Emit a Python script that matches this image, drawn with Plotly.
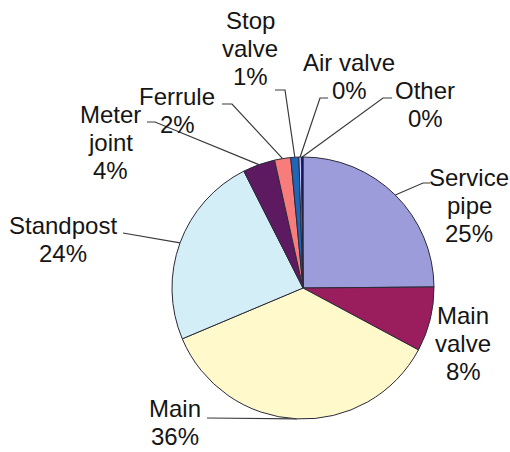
import math
import plotly.graph_objects as go

# Failure counts by component (share of all reported failures)
components = ["Service pipe", "Main valve", "Main", "Standpost", "Meter joint",
              "Ferrule", "Stop valve", "Air valve", "Other"]
shares = [25, 8, 36, 24, 4, 2, 1, 0.3, 0.2]
slice_colors = ["#9C9CDA", "#9A1D5E", "#FFF9CC", "#D3EEF6", "#5E1A60",
                "#F87C7C", "#1F66B8", "#CCCCFF", "#000080"]
label_lines = [["Service", "pipe"], ["Main", "valve"], ["Main"], ["Standpost"],
               ["Meter", "joint"], ["Ferrule"], ["Stop", "valve"], ["Air valve"], ["Other"]]

W, H = 510, 452
CX, CY, R = 303, 288, 131          # pie centre / radius in pixels
LINE_GAP = 28                      # distance between label lines

# label block centres (pixels) and leader-line starts near the label
label_pos = {
    "Service pipe": (469, 205), "Main valve": (463, 343), "Main": (175, 422),
    "Standpost": (63, 239), "Meter joint": (110, 142), "Ferrule": (177, 110),
    "Stop valve": (250, 48), "Air valve": (349, 76), "Other": (425, 104),
}
leader_start = {
    "Service pipe": [(430, 183), (423, 183)],
    "Main": [(207, 418)],
    "Standpost": [(123, 233)],
    "Meter joint": [(147, 122), (155, 122)],
    "Ferrule": [(222, 104), (232, 104)],
    "Stop valve": [(275, 90), (285, 90)],
    "Air valve": [(328, 98), (320, 98)],
    "Other": [(392, 98), (383, 98)],
}

total = sum(shares)

fig = go.Figure()
fig.add_trace(go.Pie(
    labels=components, values=shares, sort=False, direction="clockwise",
    rotation=0, textinfo="none", hoverinfo="label+percent",
    marker=dict(colors=slice_colors, line=dict(color="#2a2a3a", width=1)),
    domain=dict(x=[(CX - R) / W, (CX + R) / W],
                y=[(H - CY - R) / H, (H - CY + R) / H]),
    showlegend=False,
))

# leader lines end at the middle of each slice's outer edge
cum = 0.0
for name, v in zip(components, shares):
    mid = (cum + v / 2) / total * 2 * math.pi
    cum += v
    if name not in leader_start:
        continue
    ex = CX + R * math.sin(mid)
    ey = CY - R * math.cos(mid)
    pts = leader_start[name] + [(ex, ey)]
    fig.add_trace(go.Scatter(
        x=[p[0] for p in pts], y=[p[1] for p in pts], mode="lines",
        line=dict(color="#3a3a3a", width=1.2), hoverinfo="skip", showlegend=False,
    ))

# data labels: name lines followed by the rounded percentage
for name, v, lines in zip(components, shares, label_lines):
    pct = round(v / total * 100)
    rows = lines + [f"{pct}%"]
    x, y = label_pos[name]
    for i, row in enumerate(rows):
        fig.add_annotation(
            x=x, y=y + (i - (len(rows) - 1) / 2) * LINE_GAP, xref="x", yref="y",
            showarrow=False, text=row, borderpad=0,
            font=dict(family="Liberation Sans, Arial, sans-serif", size=24, color="#151515"),
            xanchor="center", yanchor="middle", align="center",
        )

fig.update_layout(
    width=W, height=H, margin=dict(l=0, r=0, t=0, b=0),
    paper_bgcolor="white", plot_bgcolor="rgba(0,0,0,0)",
    xaxis=dict(range=[0, W], visible=False, fixedrange=True, domain=[0, 1]),
    yaxis=dict(range=[H, 0], visible=False, fixedrange=True, domain=[0, 1]),
    showlegend=False,
)

fig.write_html("out.html")
